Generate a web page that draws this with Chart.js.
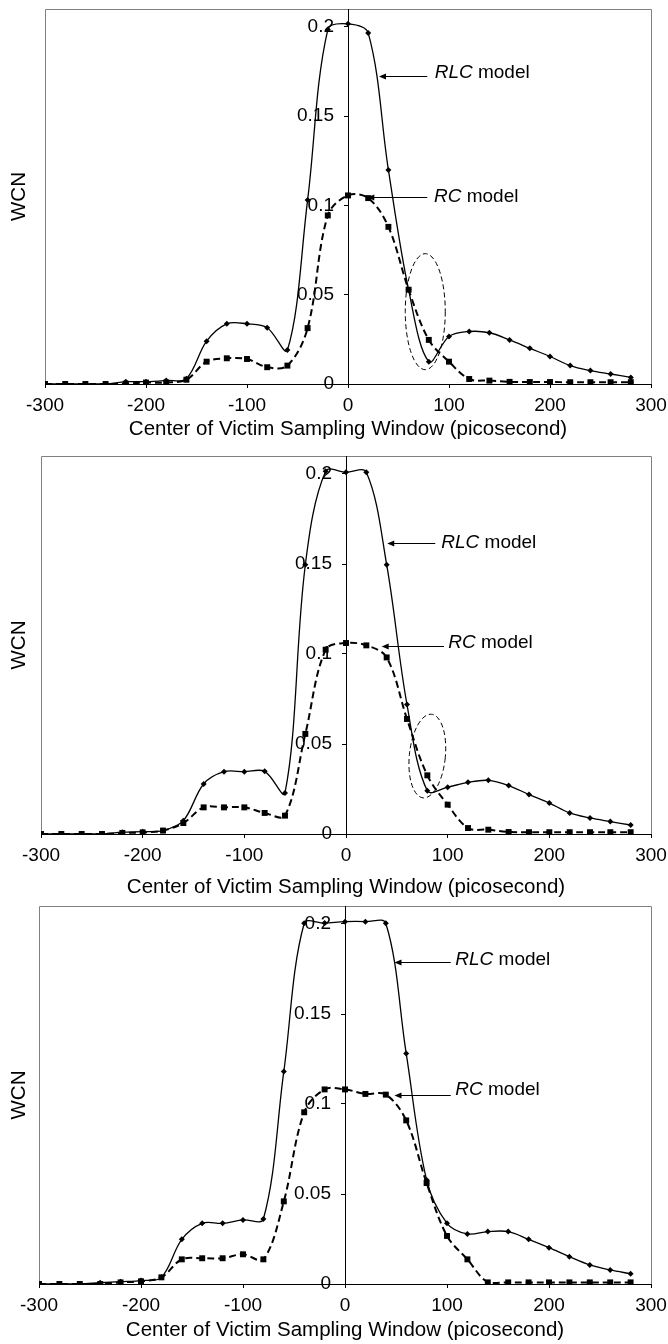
<!DOCTYPE html>
<html>
<head>
<meta charset="utf-8">
<title>WCN vs centre of victim sampling window</title>
<script src="https://cdn.jsdelivr.net/npm/chart.js@4.4.1/dist/chart.umd.min.js"></script>
<style>
  html, body { margin: 0; padding: 0; background: #fff; }
  .panel { position: absolute; left: 0; width: 668px; }
</style>
</head>
<body>
<div class="panel" style="top:0px"><canvas id="chart1" width="668" height="450"></canvas></div>
<div class="panel" style="top:450px"><canvas id="chart2" width="668" height="450"></canvas></div>
<div class="panel" style="top:900px"><canvas id="chart3" width="668" height="444"></canvas></div>
<script>
// centre of the victim sampling window (ps)
const windowCenters = [-300, -280, -260, -240, -220, -200, -180, -160, -140, -120,
                       -100, -80, -60, -40, -20, 0, 20, 40, 60, 80,
                       100, 120, 140, 160, 180, 200, 220, 240, 260, 280];
const xTickValues = [-300, -200, -100, 0, 100, 200, 300];
const yTickValues = [0, 0.05, 0.1, 0.15, 0.2];
const xTitle = 'Center of Victim Sampling Window (picosecond)';
const yTitle = 'WCN';
const seriesNames = ['RLC', 'RC'];

// top panel
const rlcTop = [0, 0, 0, 0, 0.0013, 0.0013, 0.002, 0.003, 0.024, 0.0337,
                0.0337, 0.0315, 0.019, 0.103, 0.1985, 0.2017, 0.1966, 0.1199, 0.0528, 0.0125,
                0.0266, 0.0294, 0.0287, 0.0247, 0.020, 0.0154, 0.0103, 0.0075, 0.0056, 0.0037];
const rcTop = [0, 0, 0, 0, 0.0002, 0.0008, 0.0008, 0.0024, 0.0125, 0.0144,
               0.014, 0.0094, 0.0103, 0.0313, 0.0944, 0.1056, 0.1041, 0.088, 0.0528, 0.0247,
               0.0125, 0.0028, 0.0019, 0.0012, 0.0011, 0.0011, 0.001, 0.001, 0.001, 0.001];
// middle panel
const rlcMiddle = [0, 0, 0, 0, 0.001, 0.0013, 0.0019, 0.0074, 0.0278, 0.0346,
                   0.0346, 0.0348, 0.0228, 0.1496, 0.2015, 0.201, 0.201, 0.1496, 0.0719, 0.024,
                   0.026, 0.0287, 0.0298, 0.0269, 0.0219, 0.0172, 0.0117, 0.0089, 0.0069, 0.005];
const rcMiddle = [0, 0, 0, 0, 0.0006, 0.0009, 0.0019, 0.0061, 0.0148, 0.0148,
                  0.0148, 0.0117, 0.0102, 0.0556, 0.1024, 0.1061, 0.1048, 0.0981, 0.0639, 0.0326,
                  0.0163, 0.0033, 0.0024, 0.0011, 0.001, 0.001, 0.001, 0.001, 0.001, 0.001];
// bottom panel
const rlcBottom = [0, 0, 0, 0.0007, 0.0013, 0.0019, 0.0037, 0.0248, 0.0337, 0.0337,
                   0.0356, 0.0361, 0.118, 0.2004, 0.2005, 0.2013, 0.2013, 0.2004, 0.1281, 0.0578,
                   0.0337, 0.0278, 0.0291, 0.0291, 0.0248, 0.0202, 0.0152, 0.0106, 0.0078, 0.0057];
const rcBottom = [0, 0, 0, 0, 0.0009, 0.0015, 0.0037, 0.0137, 0.0143, 0.0143,
                  0.0165, 0.0137, 0.0459, 0.0954, 0.1081, 0.1081, 0.1056, 0.1052, 0.0909, 0.0561,
                  0.0267, 0.0137, 0.0009, 0.0009, 0.0009, 0.0009, 0.0009, 0.0009, 0.0009, 0.0009];

const FONT = '"Liberation Sans", Arial, Helvetica, sans-serif';
Chart.defaults.font.family = FONT;
Chart.defaults.font.size = 19;
Chart.defaults.color = '#000';

function toPoints(values) {
    return windowCenters.map(function (x, i) { return { x: x, y: values[i] }; });
}

// gray box round the plot area and the rotated WCN label
const framePlugin = {
    id: 'frame',
    beforeDraw(chart) {
        const { ctx, chartArea: a } = chart;
        const l = Math.round(a.left) + 0.5, t = Math.round(a.top) + 0.5;
        const r = Math.round(a.right) + 0.5, b = Math.round(a.bottom) + 0.5;
        ctx.save();
        ctx.strokeStyle = '#808080';
        ctx.lineWidth = 1;
        ctx.beginPath();
        ctx.moveTo(l, b); ctx.lineTo(l, t); ctx.lineTo(r, t); ctx.lineTo(r, b);
        ctx.stroke();
        ctx.translate(19, (a.top + a.bottom) / 2);
        ctx.rotate(-Math.PI / 2);
        ctx.fillStyle = '#000';
        ctx.font = '20.5px ' + FONT;
        ctx.textAlign = 'center';
        ctx.textBaseline = 'middle';
        ctx.fillText(yTitle, 0, 0);
        ctx.restore();
    },
    // y tick labels sit just left of the axis drawn at x = 0
    afterDraw(chart) {
        const { ctx, scales: { x, y } } = chart;
        const ax = Math.round(x.getPixelForValue(0)) - 14;
        ctx.save();
        ctx.fillStyle = '#000';
        ctx.font = '19px ' + FONT;
        ctx.textAlign = 'right';
        ctx.textBaseline = 'middle';
        y.ticks.forEach(function (t) {
            ctx.fillText(String(t.value), ax, y.getPixelForValue(t.value));
        });
        ctx.restore();
    }
};

// "RLC model" / "RC model" arrows and the dashed ellipse
const notesPlugin = {
    id: 'notes',
    afterDatasetsDraw(chart, args, opts) {
        const { ctx, scales: { x, y } } = chart;
        ctx.save();
        ctx.strokeStyle = '#000';
        ctx.fillStyle = '#000';
        ctx.lineWidth = 1;
        (opts.labels || []).forEach(function (n) {
            const ay = Math.round(y.getPixelForValue(n.arrowY)) + 0.5;
            const tail = x.getPixelForValue(n.from);
            const head = x.getPixelForValue(n.to);
            ctx.beginPath();
            ctx.moveTo(tail, ay);
            ctx.lineTo(head + 5, ay);
            ctx.stroke();
            ctx.beginPath();
            ctx.moveTo(head, ay);
            ctx.lineTo(head + 7, ay - 3);
            ctx.lineTo(head + 7, ay + 3);
            ctx.closePath();
            ctx.fill();

            const tx = x.getPixelForValue(n.textX);
            const ty = y.getPixelForValue(n.textY);
            ctx.textAlign = 'left';
            ctx.textBaseline = 'alphabetic';
            ctx.font = 'italic 19px ' + FONT;
            ctx.fillText(n.name, tx, ty);
            const w = ctx.measureText(n.name).width;
            ctx.font = '19px ' + FONT;
            ctx.fillText(' model', tx + w, ty);
        });
        if (opts.ellipse) {
            const e = opts.ellipse;
            ctx.setLineDash([5, 3]);
            ctx.beginPath();
            ctx.ellipse(x.getPixelForValue(e.x), y.getPixelForValue(e.y), e.rx, e.ry, e.rot, 0, Math.PI * 2);
            ctx.stroke();
        }
        ctx.restore();
    }
};

function buildChart(canvasId, rlc, rc, panel) {
    return new Chart(document.getElementById(canvasId), {
        type: 'line',
        data: {
            datasets: [{
                label: seriesNames[1] + ' model',
                data: toPoints(rc),
                borderColor: '#000',
                backgroundColor: '#000',
                borderWidth: 2,
                borderDash: [7, 4],
                pointStyle: 'rect',
                pointRadius: 4.2,
                pointBorderWidth: 0,
                tension: 0.35
            }, {
                label: seriesNames[0] + ' model',
                data: toPoints(rlc),
                borderColor: '#000',
                backgroundColor: '#000',
                borderWidth: 1.3,
                pointStyle: 'rectRot',
                pointRadius: 3,
                pointBorderWidth: 0,
                tension: 0.35
            }]
        },
        options: {
            responsive: false,
            animation: false,
            events: [],
            layout: { padding: { top: panel.padTop, left: panel.left, right: 17, bottom: 0 } },
            plugins: {
                legend: { display: false },
                tooltip: { enabled: false },
                notes: panel.notes
            },
            scales: {
                x: {
                    type: 'linear',
                    min: -300,
                    max: 300,
                    afterBuildTicks: function (s) { s.ticks = xTickValues.map(function (v) { return { value: v }; }); },
                    afterFit: function (s) {
                        s.height = panel.height - panel.areaBottom;
                        s.paddingLeft = 0;
                        s.paddingRight = 0;
                    },
                    grid: { display: true, drawOnChartArea: false, tickLength: 4, color: '#000' },
                    border: { display: true, color: '#000', width: 1 },
                    ticks: { padding: 6, maxRotation: 0, autoSkip: false, callback: function (v) { return String(v); } },
                    title: {
                        display: true,
                        text: xTitle,
                        font: { size: 20.5 },
                        padding: { top: 0, bottom: panel.titlePad }
                    }
                },
                y: {
                    type: 'linear',
                    position: { x: 0 },
                    min: 0,
                    max: 0.21,
                    afterBuildTicks: function (s) { s.ticks = yTickValues.map(function (v) { return { value: v }; }); },
                    afterFit: function (s) {
                        s.paddingTop = 0;
                        s.paddingBottom = 0;
                    },
                    grid: { display: true, drawOnChartArea: false, tickLength: 4, color: '#000' },
                    border: { display: true, color: '#000', width: 1 },
                    ticks: { display: false }
                }
            }
        },
        plugins: [framePlugin, notesPlugin]
    });
}

buildChart('chart1', rlcTop, rcTop, {
    height: 450, padTop: 9, areaBottom: 384, left: 45, titlePad: 8,
    notes: {
        labels: [
            { name: seriesNames[0], from: 78.5, to: 30.7, arrowY: 0.1725, textX: 85.8, textY: 0.1712 },
            { name: seriesNames[1], from: 78.5, to: 19.1, arrowY: 0.1049, textX: 85.1, textY: 0.1021 }
        ],
        ellipse: { x: 76.5, y: 0.0405, rx: 20, ry: 58, rot: 0 }
    }
});

buildChart('chart2', rlcMiddle, rcMiddle, {
    height: 450, padTop: 6, areaBottom: 384, left: 41, titlePad: 0.5,
    notes: {
        labels: [
            { name: seriesNames[0], from: 87.8, to: 40.6, arrowY: 0.1618, textX: 93.7, textY: 0.1587 },
            { name: seriesNames[1], from: 96.4, to: 35.1, arrowY: 0.1044, textX: 100.6, textY: 0.1032 }
        ],
        ellipse: { x: 80, y: 0.0433, rx: 18, ry: 42, rot: 0.1 }
    }
});

buildChart('chart3', rlcBottom, rcBottom, {
    height: 444, padTop: 6, areaBottom: 384, left: 39, titlePad: 1.2,
    notes: {
        labels: [
            { name: seriesNames[0], from: 103.7, to: 48.5, arrowY: 0.1787, textX: 108.1, textY: 0.1772 },
            { name: seriesNames[1], from: 103.7, to: 48.5, arrowY: 0.1052, textX: 108.1, textY: 0.1048 }
        ]
    }
});
</script>
</body>
</html>
